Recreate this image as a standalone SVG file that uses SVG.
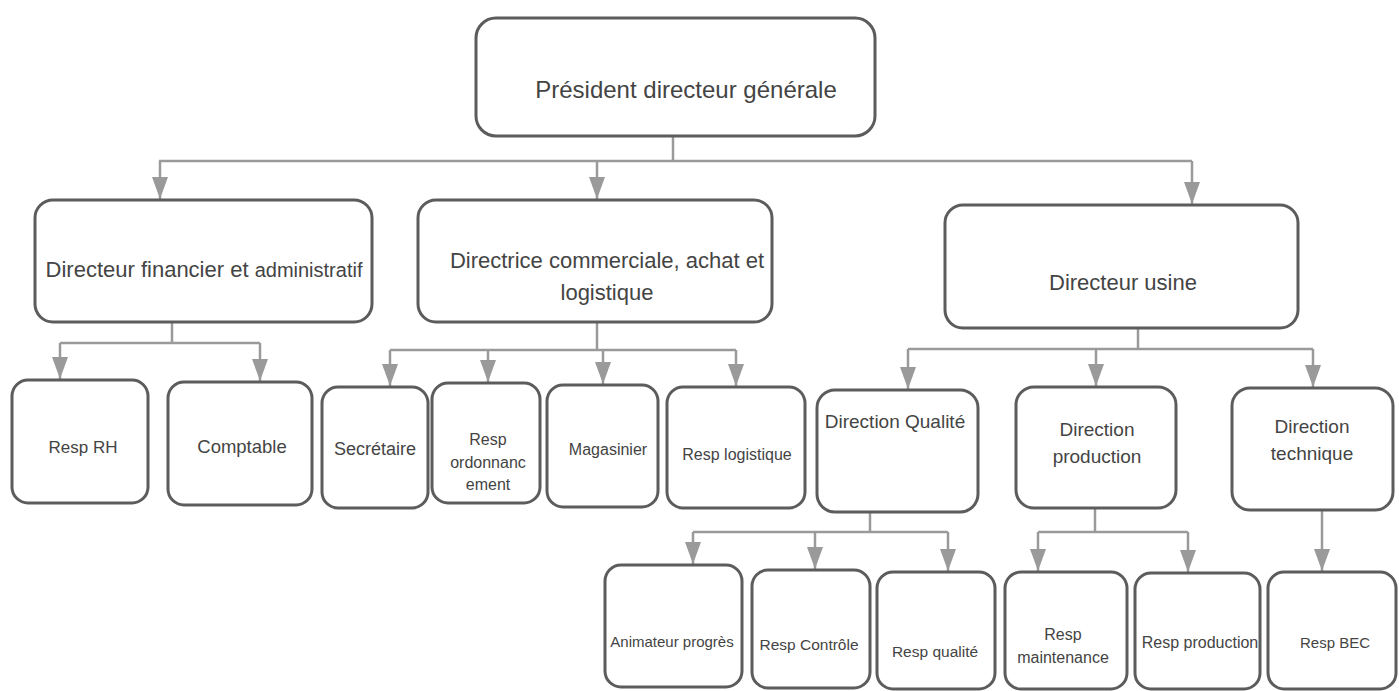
<svg xmlns="http://www.w3.org/2000/svg" width="1399" height="691" viewBox="0 0 1399 691">
<style>
.box{fill:#fff;stroke:#5c5c5c;stroke-width:3}
.t{font-family:"Liberation Sans",Arial,sans-serif;fill:#444;text-anchor:middle}
.c{fill:none;stroke:#9a9a9a;stroke-width:2.5}
</style>
<defs>
<marker id="ah" markerUnits="userSpaceOnUse" markerWidth="22" markerHeight="16" refX="22" refY="8" orient="auto">
<path d="M0,0 L22,8 L0,16 z" fill="#9a9a9a"/>
</marker>
</defs>
<rect width="1399" height="691" fill="#fff"/>
<g id="connectors">
<path class="c" d="M673,136 V161 M159,161 H1192"/>
<path class="c" d="M160,161 V199" marker-end="url(#ah)"/>
<path class="c" d="M597,161 V199" marker-end="url(#ah)"/>
<path class="c" d="M1192,161 V204" marker-end="url(#ah)"/>
<path class="c" d="M172,322 V343 M60,343 H260"/>
<path class="c" d="M60,343 V379" marker-end="url(#ah)"/>
<path class="c" d="M260,343 V381" marker-end="url(#ah)"/>
<path class="c" d="M597,322 V350 M390,350 H736"/>
<path class="c" d="M390,350 V386" marker-end="url(#ah)"/>
<path class="c" d="M488,350 V382" marker-end="url(#ah)"/>
<path class="c" d="M603,350 V384" marker-end="url(#ah)"/>
<path class="c" d="M736,350 V386" marker-end="url(#ah)"/>
<path class="c" d="M1138,328 V349 M908,349 H1313"/>
<path class="c" d="M908,349 V389" marker-end="url(#ah)"/>
<path class="c" d="M1096,349 V386" marker-end="url(#ah)"/>
<path class="c" d="M1313,349 V387" marker-end="url(#ah)"/>
<path class="c" d="M870,512 V532 M693,532 H948"/>
<path class="c" d="M693,532 V564" marker-end="url(#ah)"/>
<path class="c" d="M815,532 V569" marker-end="url(#ah)"/>
<path class="c" d="M948,532 V571" marker-end="url(#ah)"/>
<path class="c" d="M1095,508 V532 M1038,532 H1188"/>
<path class="c" d="M1038,532 V571" marker-end="url(#ah)"/>
<path class="c" d="M1188,532 V572" marker-end="url(#ah)"/>
<path class="c" d="M1322,510 V571" marker-end="url(#ah)"/>
</g>
<g id="pdg"><rect class="box" x="476" y="18" width="399" height="118" rx="20"/><text class="t" x="686" y="98" font-size="24">Président directeur générale</text></g>
<g id="dfa"><rect class="box" x="35" y="200" width="337" height="122" rx="18"/><text class="t" x="204" y="277" font-size="22">Directeur financier et <tspan font-size="20">administratif</tspan></text></g>
<g id="dcal"><rect class="box" x="418" y="200" width="354" height="122" rx="18"/><text class="t" x="607" y="268" font-size="22">Directrice commerciale, achat et</text><text class="t" x="607" y="300" font-size="22">logistique</text></g>
<g id="du"><rect class="box" x="945" y="205" width="353" height="123" rx="18"/><text class="t" x="1123" y="290" font-size="22">Directeur usine</text></g>
<g id="rh"><rect class="box" x="12" y="380" width="136" height="123" rx="16"/><text class="t" x="83" y="453" font-size="17">Resp RH</text></g>
<g id="comptable"><rect class="box" x="168" y="382" width="144" height="123" rx="16"/><text class="t" x="242" y="453" font-size="18.5">Comptable</text></g>
<g id="secretaire"><rect class="box" x="322" y="387" width="106" height="121" rx="16"/><text class="t" x="375" y="455" font-size="18">Secrétaire</text></g>
<g id="ordo"><rect class="box" x="432" y="383" width="108" height="120" rx="16"/><text class="t" x="488" y="445" font-size="16">Resp</text><text class="t" x="488" y="468" font-size="16">ordonnanc</text><text class="t" x="488" y="490" font-size="16">ement</text></g>
<g id="magasinier"><rect class="box" x="547" y="385" width="111" height="122" rx="16"/><text class="t" x="608" y="455" font-size="16">Magasinier</text></g>
<g id="logistique"><rect class="box" x="667" y="387" width="138" height="121" rx="16"/><text class="t" x="737" y="460" font-size="16">Resp logistique</text></g>
<g id="dq"><rect class="box" x="817" y="390" width="161" height="122" rx="18"/><text class="t" x="895" y="428" font-size="19">Direction Qualité</text></g>
<g id="dp"><rect class="box" x="1016" y="387" width="160" height="121" rx="18"/><text class="t" x="1097" y="436" font-size="19">Direction</text><text class="t" x="1097" y="463" font-size="19">production</text></g>
<g id="dt"><rect class="box" x="1232" y="388" width="161" height="122" rx="18"/><text class="t" x="1312" y="433" font-size="19">Direction</text><text class="t" x="1312" y="460" font-size="19">technique</text></g>
<g id="animateur"><rect class="box" x="605" y="565" width="137" height="122" rx="16"/><text class="t" x="672" y="647" font-size="15">Animateur progrès</text></g>
<g id="controle"><rect class="box" x="752" y="570" width="118" height="118" rx="16"/><text class="t" x="809" y="650" font-size="15.5">Resp Contrôle</text></g>
<g id="rqualite"><rect class="box" x="877" y="572" width="118" height="117" rx="16"/><text class="t" x="935" y="657" font-size="15.5">Resp qualité</text></g>
<g id="maintenance"><rect class="box" x="1005" y="572" width="122" height="117" rx="16"/><text class="t" x="1063" y="640" font-size="16">Resp</text><text class="t" x="1063" y="663" font-size="16">maintenance</text></g>
<g id="rproduction"><rect class="box" x="1135" y="573" width="125" height="116" rx="16"/><text class="t" x="1200" y="648" font-size="16">Resp production</text></g>
<g id="bec"><rect class="box" x="1268" y="572" width="128" height="117" rx="16"/><text class="t" x="1335" y="648" font-size="15">Resp BEC</text></g>
</svg>
